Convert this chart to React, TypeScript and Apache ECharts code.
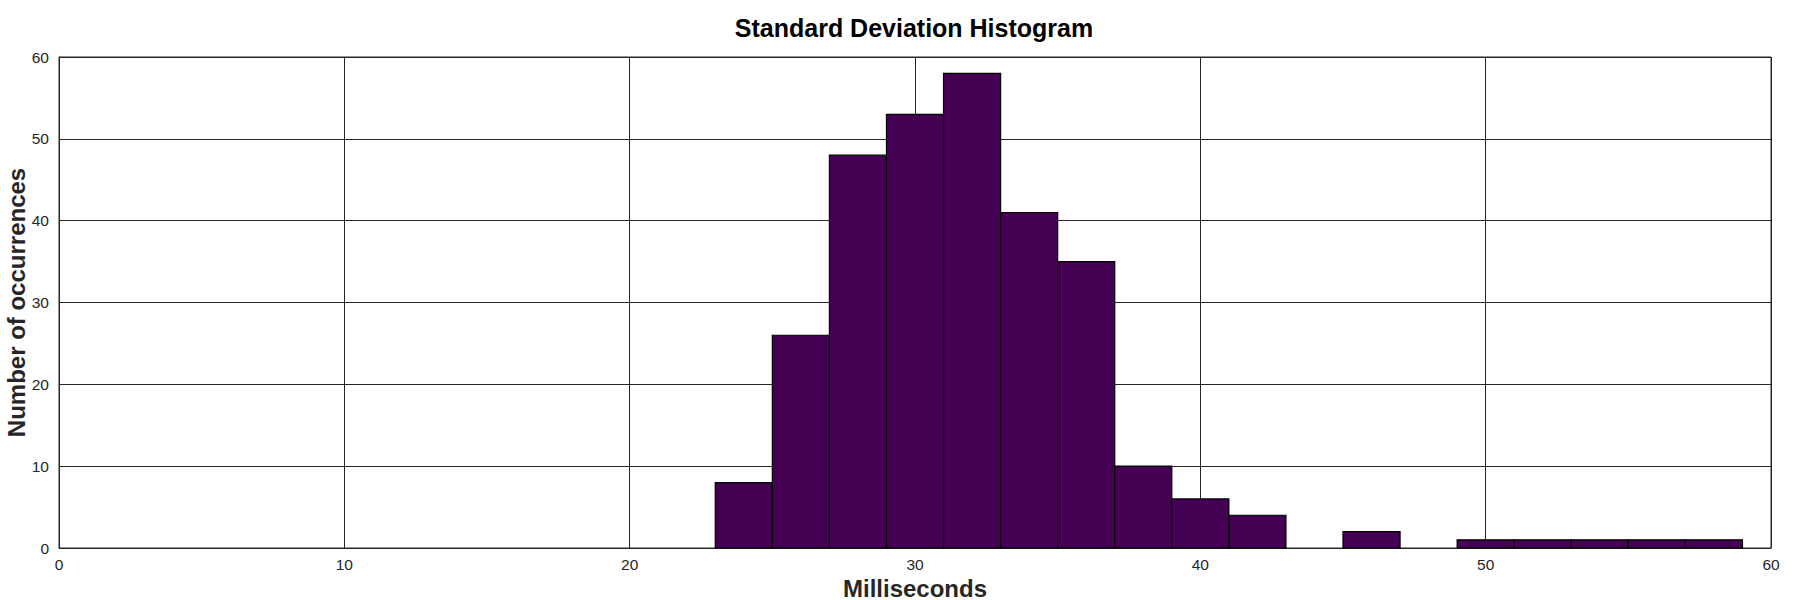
import React, { useEffect, useRef } from "react";
import * as echarts from "echarts";

const binStarts = [23, 25, 27, 29, 31, 33, 35, 37, 39, 41, 43, 45, 47, 49, 51, 53, 55, 57];
const binWidth = 2;
const counts = [8, 26, 48, 53, 58, 41, 35, 10, 6, 4, 0, 2, 0, 1, 1, 1, 1, 1];
const xTicks = [0, 10, 20, 30, 40, 50, 60];
const yTicks = [0, 10, 20, 30, 40, 50, 60];

export default function App() {
  const ref = useRef<HTMLDivElement>(null);
  useEffect(() => {
    document.body.style.margin = "0";
    const chart = echarts.init(ref.current!, null, { renderer: "svg" });
    const data = binStarts.map((s, i) => [s, s + binWidth, counts[i]]).filter((d) => d[2] > 0);
    const font = "Liberation Sans";
    chart.setOption({
      animation: false,
      backgroundColor: "#ffffff",
      title: {
        text: "Standard Deviation Histogram",
        left: 909,
        textAlign: "center",
        top: 10,
        textStyle: { fontFamily: font, fontSize: 25, fontWeight: "bold", color: "#000000" },
      },
      grid: {
        left: 59,
        right: 29,
        top: 57,
        bottom: 52,
        outerBoundsMode: "none",
        containLabel: false,
        show: true,
        borderColor: "#262626",
        borderWidth: 1,
        backgroundColor: "transparent",
      },
      xAxis: {
        type: "value",
        min: xTicks[0],
        max: xTicks[xTicks.length - 1],
        interval: 10,
        name: "Milliseconds",
        nameLocation: "middle",
        nameGap: 28,
        nameMoveOverlap: false,
        nameTextStyle: { fontFamily: font, fontSize: 24, fontWeight: "bold", color: "#262626" },
        axisLine: { show: true, lineStyle: { color: "#262626", width: 1 } },
        axisTick: { show: false },
        axisLabel: { fontFamily: font, fontSize: 15.5, color: "#262626", margin: 8 },
        splitLine: { show: true, lineStyle: { color: "#262626", width: 1 } },
      },
      yAxis: {
        type: "value",
        min: yTicks[0],
        max: yTicks[yTicks.length - 1],
        interval: 10,
        name: "Number of occurrences",
        nameLocation: "middle",
        nameGap: 31,
        nameMoveOverlap: false,
        nameTextStyle: { fontFamily: font, fontSize: 24, fontWeight: "bold", color: "#262626" },
        axisLine: { show: true, lineStyle: { color: "#262626", width: 1 } },
        axisTick: { show: false },
        axisLabel: { fontFamily: font, fontSize: 15.5, color: "#262626", margin: 10 },
        splitLine: { show: true, lineStyle: { color: "#262626", width: 1 } },
      },
      series: [
        {
          type: "custom",
          data,
          encode: { x: [0, 1], y: 2 },
          renderItem: (params: any, api: any) => {
            const p0 = api.coord([api.value(0), 0]);
            const p1 = api.coord([api.value(1), api.value(2)]);
            return {
              type: "rect",
              shape: { x: p0[0], y: p1[1], width: p1[0] - p0[0], height: p0[1] - p1[1] },
              style: { fill: "#440154", stroke: "#000000", lineWidth: 1.2 },
            };
          },
        },
      ],
    });
    return () => chart.dispose();
  }, []);
  return <div ref={ref} style={{ width: 1800, height: 600 }} />;
}
